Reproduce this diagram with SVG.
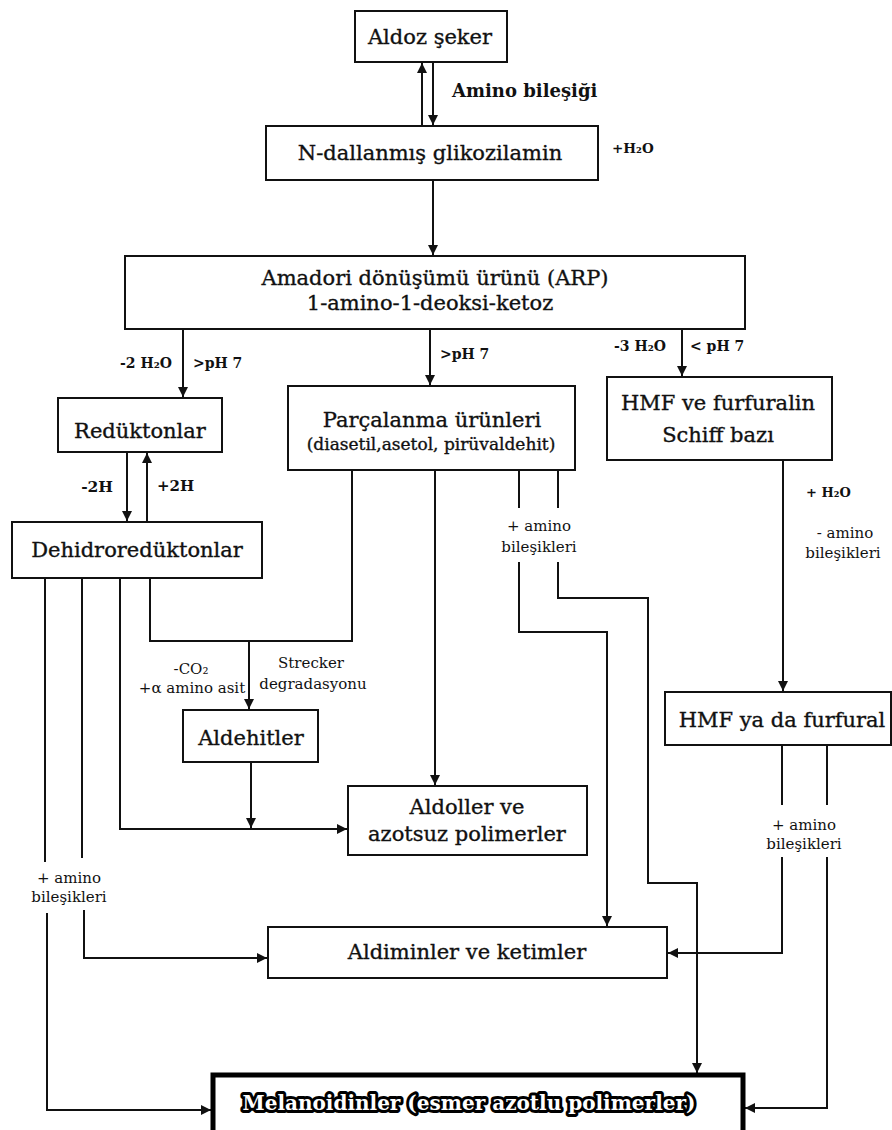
<svg xmlns="http://www.w3.org/2000/svg" width="892" height="1130" viewBox="0 0 892 1130">
<style>
.box{fill:#fff;stroke:#111;stroke-width:2}
.t{font-family:"DejaVu Serif","Liberation Serif",serif;fill:#111;stroke:#111;stroke-width:0.35;text-anchor:middle}
.n{font-size:21px}
.s{font-size:17px}
.lb{font-family:"DejaVu Serif","Liberation Serif",serif;fill:#111;font-weight:bold}
.sm{font-family:"DejaVu Serif","Liberation Serif",serif;fill:#111;font-size:15px;text-anchor:middle}
.c{fill:none;stroke:#111;stroke-width:2}
.mel{font-family:"DejaVu Serif","Liberation Serif",serif;font-weight:bold;font-size:20px;fill:#fff;stroke:#000;stroke-width:6;stroke-linejoin:round;paint-order:stroke;text-anchor:middle}
</style>
<defs>
<marker id="ah" viewBox="0 0 10 10" refX="10" refY="5" markerWidth="10" markerHeight="10" markerUnits="userSpaceOnUse" orient="auto">
<path d="M0,0 L10,5 L0,10 z" fill="#111"/>
</marker>
</defs>
<rect width="892" height="1130" fill="#fff"/>

<g id="connectors">
<path class="c" d="M422 126 V63" marker-end="url(#ah)"/>
<path class="c" d="M433 62 V125" marker-end="url(#ah)"/>
<path class="c" d="M433 180 V255" marker-end="url(#ah)"/>
<path class="c" d="M183 329 V397" marker-end="url(#ah)"/>
<path class="c" d="M430 325 V385" marker-end="url(#ah)"/>
<path class="c" d="M682 315 V376" marker-end="url(#ah)"/>
<path class="c" d="M127 452 V521" marker-end="url(#ah)"/>
<path class="c" d="M147 522 V453" marker-end="url(#ah)"/>
<path class="c" d="M783 460 V691" marker-end="url(#ah)"/>
<path class="c" d="M150 578 V641 H352 V470"/>
<path class="c" d="M249 641 V709" marker-end="url(#ah)"/>
<path class="c" d="M251 762 V828" marker-end="url(#ah)"/>
<path class="c" d="M120 578 V829 H347" marker-end="url(#ah)"/>
<path class="c" d="M435 470 V785" marker-end="url(#ah)"/>
<path class="c" d="M519 470 V508"/>
<path class="c" d="M519 562 V632 H607 V926" marker-end="url(#ah)"/>
<path class="c" d="M558 470 V508"/>
<path class="c" d="M558 562 V598 H648 V883 H697 V1073" marker-end="url(#ah)"/>
<path class="c" d="M782 745 V805"/>
<path class="c" d="M782 857 V953 H668" marker-end="url(#ah)"/>
<path class="c" d="M827 745 V805"/>
<path class="c" d="M827 857 V1108 H745" marker-end="url(#ah)"/>
<path class="c" d="M45 578 V862"/>
<path class="c" d="M47 913 V1110 H211" marker-end="url(#ah)"/>
<path class="c" d="M82 578 V858"/>
<path class="c" d="M84 910 V958 H267" marker-end="url(#ah)"/>
</g>

<g id="labels">
<text class="lb" x="452" y="97" font-size="18">Amino bileşiği</text>
<text class="lb" x="612" y="153" font-size="13.5">+H₂O</text>
<text class="lb" x="172" y="368" font-size="14" text-anchor="end">-2 H₂O</text>
<text class="lb" x="193" y="368" font-size="14">&gt;pH 7</text>
<text class="lb" x="440" y="359" font-size="14">&gt;pH 7</text>
<text class="lb" x="666" y="351" font-size="14" text-anchor="end">-3 H₂O</text>
<text class="lb" x="690" y="351" font-size="14">&lt; pH 7</text>
<text class="lb" x="113" y="492" font-size="15.5" text-anchor="end">-2H</text>
<text class="lb" x="157" y="491" font-size="15">+2H</text>
<text class="sm" x="191" y="674" font-size="16">-CO₂</text>
<text class="sm" x="192" y="693" font-size="16">+α amino asit</text>
<text class="sm" x="311" y="668" font-size="16">Strecker</text>
<text class="sm" x="313" y="689" font-size="16">degradasyonu</text>
<text class="sm" x="539" y="531">+ amino</text>
<text class="sm" x="539" y="552">bileşikleri</text>
<text class="lb" x="806" y="497" font-size="13">+ H₂O</text>
<text class="sm" x="845" y="538" font-size="16">- amino</text>
<text class="sm" x="843" y="558" font-size="16">bileşikleri</text>
<text class="sm" x="804" y="830">+ amino</text>
<text class="sm" x="804" y="849">bileşikleri</text>
<text class="sm" x="69" y="883">+ amino</text>
<text class="sm" x="69" y="902">bileşikleri</text>
</g>

<g id="aldoz">
<rect class="box" x="355" y="11" width="152" height="51"/>
<text class="t n" x="430" y="44">Aldoz şeker</text>
</g>
<g id="glikozilamin">
<rect class="box" x="266" y="126" width="332" height="54"/>
<text class="t n" x="430" y="160">N-dallanmış glikozilamin</text>
</g>
<g id="amadori">
<rect class="box" x="125" y="256" width="620" height="73"/>
<text class="t n" x="435" y="285">Amadori dönüşümü ürünü (ARP)</text>
<text class="t n" x="430" y="310">1-amino-1-deoksi-ketoz</text>
</g>
<g id="reduktonlar">
<rect class="box" x="58" y="398" width="164" height="54"/>
<text class="t n" x="140" y="438">Redüktonlar</text>
</g>
<g id="parcalanma">
<rect class="box" x="288" y="386" width="287" height="84"/>
<text class="t n" x="432" y="427">Parçalanma ürünleri</text>
<text class="t s" x="431" y="450">(diasetil,asetol, pirüvaldehit)</text>
</g>
<g id="hmf-schiff">
<rect class="box" x="607" y="377" width="225" height="83"/>
<text class="t n" x="718" y="410">HMF ve furfuralin</text>
<text class="t n" x="718" y="442">Schiff bazı</text>
</g>
<g id="dehidroreduktonlar">
<rect class="box" x="12" y="522" width="250" height="56"/>
<text class="t n" x="137" y="557">Dehidroredüktonlar</text>
</g>
<g id="aldehitler">
<rect class="box" x="183" y="710" width="135" height="52"/>
<text class="t n" x="251" y="745">Aldehitler</text>
</g>
<g id="aldoller">
<rect class="box" x="348" y="786" width="239" height="69"/>
<text class="t n" x="467" y="814">Aldoller ve</text>
<text class="t n" x="467" y="841">azotsuz polimerler</text>
</g>
<g id="hmf-furfural">
<rect class="box" x="665" y="692" width="226" height="53"/>
<text class="t n" x="782" y="727">HMF ya da furfural</text>
</g>
<g id="aldiminler">
<rect class="box" x="268" y="927" width="399" height="51"/>
<text class="t n" x="467" y="959">Aldiminler ve ketimler</text>
</g>
<g id="melanoidinler">
<rect x="213" y="1075" width="530" height="80" fill="#fff" stroke="#000" stroke-width="5"/>
<text class="mel" x="469" y="1110">Melanoidinler (esmer azotlu polimerler)</text>
</g>
</svg>
